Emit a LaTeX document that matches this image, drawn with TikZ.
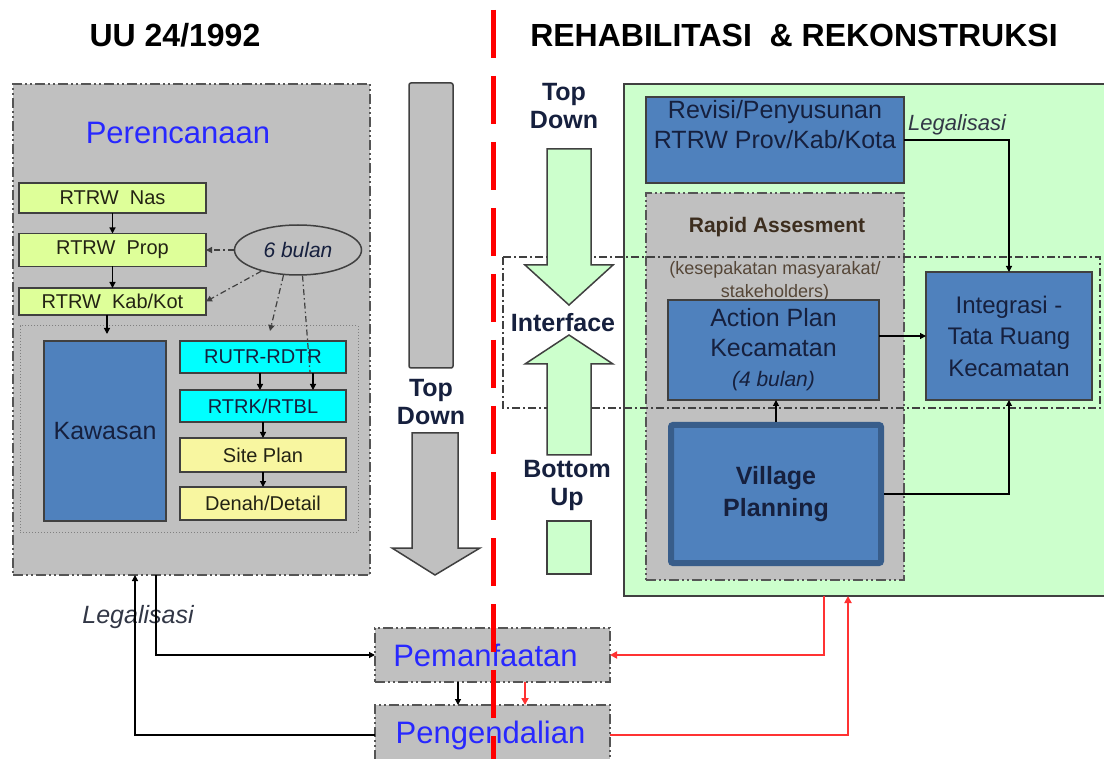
\documentclass[tikz,border=0pt]{standalone}
\usepackage{fontspec}
\setmainfont{Liberation Sans}
\usetikzlibrary{arrows.meta,shapes.geometric,calc}
\definecolor{grayfill}{RGB}{192,192,192}
\definecolor{bordc}{RGB}{64,64,64}
\definecolor{dashc}{RGB}{85,85,85}
\definecolor{lgreen}{RGB}{204,255,204}
\definecolor{ygreen}{RGB}{222,255,153}
\definecolor{lyellow}{RGB}{248,246,160}
\definecolor{cyanc}{RGB}{0,255,255}
\definecolor{bluebox}{RGB}{79,129,189}
\definecolor{bluedark}{RGB}{56,93,138}
\definecolor{navytxt}{RGB}{22,32,62}
\definecolor{darktxt}{RGB}{35,35,20}
\definecolor{bluetxt}{RGB}{40,40,255}
\definecolor{redline}{RGB}{255,0,0}
\definecolor{redarr}{RGB}{255,50,50}
\definecolor{browntxt}{RGB}{60,45,30}
\definecolor{lbrowntxt}{RGB}{85,70,55}
\definecolor{legtxt}{RGB}{50,55,70}
\newcommand\fsz[2]{\fontsize{#1}{#2}\selectfont}
\begin{document}
\begin{tikzpicture}[x=1pt,y=-1pt,
  box/.style={draw=bordc,line width=1.5pt,inner sep=0pt,outer sep=0pt,align=center},
  ddbox/.style={draw=dashc,line width=2.5pt,fill=grayfill,
    dash pattern=on 10pt off 3pt on 2pt off 3pt on 2pt off 3pt,
    inner sep=0pt,outer sep=0pt,align=center},
  arr/.style={-{Triangle[length=6pt,width=6pt]},line width=1.2pt,draw=black},
  arrred/.style={-{Triangle[length=7pt,width=7pt]},line width=1.8pt,draw=redarr},
  ddline/.style={dash pattern=on 6pt off 3pt on 1.5pt off 3pt,draw=bordc},
  bigarrow/.style={draw=bordc,line width=1.5pt,line join=miter},
  sidetxt/.style={font=\fsz{25}{28}\bfseries,align=center,text=navytxt}
]
\useasboundingbox (0,0) rectangle (1104,759);
\fill[white] (0,0) rectangle (1104,759);

% titles
\node[font=\fsz{32}{38}\bfseries] (ttl1) at (175,35) {UU 24/1992};
\node[font=\fsz{32}{38}\bfseries] (ttl2) at (794,35) {REHABILITASI\ \ \&\ REKONSTRUKSI};

% ---------------- left panel
\node[ddbox,minimum width=357pt,minimum height=491pt] (plan) at (191.5,329.5) {};
\node[text=bluetxt,font=\fsz{31}{36}] (perenc) at (178,133) {Perencanaan};
\node[box,fill=ygreen,minimum width=187pt,minimum height=30pt,font=\fsz{20}{24},text=darktxt] (nas) at (112.5,198) {RTRW\ \ Nas};
\node[box,fill=ygreen,minimum width=187pt,minimum height=33pt,font=\fsz{20}{24},text=darktxt] (prop) at (112.5,250) {RTRW\ \ Prop};
\node[box,fill=ygreen,minimum width=187pt,minimum height=27pt,font=\fsz{20}{24},text=darktxt] (kab) at (112.5,301.5) {RTRW\ \ Kab/Kot};
\node[draw=bordc,line width=1.5pt,fill=grayfill,ellipse,minimum width=127pt,minimum height=50pt,inner sep=0pt,font=\fsz{21}{24}\itshape,text=navytxt] (ell) at (298,250) {6 bulan};

\node[draw=gray,dotted,line width=1pt,fill=grayfill,minimum width=338pt,minimum height=206pt,inner sep=0pt] (inner) at (189,429) {};
\node[box,fill=bluebox,minimum width=122pt,minimum height=180pt,font=\fsz{25}{30},text=navytxt] (kaw) at (105,431) {Kawasan};
\node[box,fill=cyanc,minimum width=166pt,minimum height=32pt,font=\fsz{20}{24},text=navytxt] (rutr) at (263,357) {RUTR-RDTR};
\node[box,fill=cyanc,minimum width=166pt,minimum height=32pt,font=\fsz{20}{24},text=navytxt] (rtrk) at (263,406) {RTRK/RTBL};
\node[box,fill=lyellow,minimum width=166pt,minimum height=34pt,font=\fsz{20}{24},text=darktxt] (site) at (263,455) {Site Plan};
\node[box,fill=lyellow,minimum width=166pt,minimum height=33pt,font=\fsz{20}{24},text=darktxt] (denah) at (263,503.5) {Denah/Detail};

\draw[arr] (nas.south) -- (prop.north);
\draw[arr] (prop.south) -- (kab.north);
\coordinate (kin) at (107,334);
\draw[arr] (kab.south -| kin) -- (kin);
\draw[arr,ddline] (ell.west) -- (prop.east);
\draw[arr,ddline] (ell.210) -- (kab.east);
\coordinate (rutrin) at (270,331);
\draw[arr,ddline] (ell.240) -- (rutrin);
\coordinate (rutrx) at (310,372);
\draw[ddline,line width=1.2pt] (ell.280) -- (rutrx);
\draw[arr] ([xshift=-3pt]rutr.south) -- ([xshift=-3pt]rtrk.north);
\draw[arr] ([xshift=50pt]rutr.south) -- ([xshift=50pt]rtrk.north);
\draw[arr] (rtrk.south) -- (site.north);
\draw[arr] (site.south) -- (denah.north);

% ---------------- middle arrows
\draw[bigarrow,fill=grayfill,rounded corners=2pt] (409,83) rectangle (453,368);
\node[sidetxt] (td1) at (431,402) {Top\\Down};
\draw[bigarrow,fill=grayfill] (412,433) -- (458,433) -- (458,548) -- (480,548) -- (435,575) -- (392,548) -- (412,548) -- cycle;

% ---------------- right panel
\node[box,fill=lgreen,minimum width=491pt,minimum height=512pt] (green) at (869.5,340) {};
\node[box,fill=bluebox,minimum width=258pt,minimum height=86pt] (rev) at (775,140) {};
\node[font=\fsz{25}{30},text=navytxt,align=center] (revt) at (775,125) {Revisi/Penyusunan\\RTRW Prov/Kab/Kota};
\node[font=\fsz{22}{26}\itshape,text=legtxt] (leg2) at (957,125) {Legalisasi};
\node[ddbox,minimum width=258pt,minimum height=387pt] (rapid) at (775,386.5) {};
\node[font=\fsz{21}{25}\bfseries,text=browntxt] (rapt) at (777,227) {Rapid Assesment};
\node[font=\fsz{18}{23},text=lbrowntxt,align=center] (kesep) at (775,281.5) {(kesepakatan masyarakat/\\stakeholders)};

% interface box
\draw[bordc,line width=1.5pt,dash pattern=on 8pt off 3pt on 2pt off 3pt] (503,257) rectangle (1100,408);

% green arrows
\node[sidetxt] (td2) at (564,106) {Top\\Down};
\draw[bigarrow,fill=lgreen] (547,149) -- (591,149) -- (591,265) -- (613,265) -- (569,305) -- (525,265) -- (547,265) -- cycle;
\node[font=\fsz{25}{28}\bfseries,text=navytxt] (intf) at (563,323) {Interface};
\draw[bigarrow,fill=lgreen] (569,335) -- (613,364) -- (591,364) -- (591,455) -- (547,455) -- (547,364) -- (525,364) -- cycle;
\node[sidetxt] (bu) at (567,485) {Bottom\\Up};
\node[box,fill=lgreen,minimum width=44pt,minimum height=53pt] (bsq) at (569,547.5) {};

% blue boxes
\node[box,fill=bluebox,minimum width=211pt,minimum height=100pt,font=\fsz{25}{30},text=navytxt] (action) at (773.5,350) {Action Plan\\Kecamatan\\{\itshape\fsz{21}{30}(4 bulan)}};
\node[box,fill=bluebox,minimum width=166pt,minimum height=128pt,font=\fsz{24}{31.5},text=navytxt] (integ) at (1009,336) {Integrasi -\\Tata Ruang\\Kecamatan};
\node[draw=bluedark,line width=6pt,fill=bluebox,minimum width=210pt,minimum height=138pt,inner sep=0pt,outer sep=3pt,rounded corners=2pt,font=\fsz{25}{32}\bfseries,text=navytxt,align=center] (village) at (776,494) {Village\\Planning};

\draw[arr] (rev.east) -| (integ.north);
\draw[arr] (integ.west -| action.east) -- (integ.west);
\draw[arr] (village.north) -- (village.north |- action.south);
\draw[arr] (village.east) -| (integ.south);

% ---------------- bottom
\node[ddbox,minimum width=235pt,minimum height=54pt,font=\fsz{31}{36},text=bluetxt] (pem) at (492.5,655) {Pemanfaatan\hspace*{14pt}};
\node[ddbox,minimum width=235pt,minimum height=60pt,font=\fsz{31}{36},text=bluetxt] (peng) at (492.5,735) {\raisebox{4pt}{Pengendalian}\hspace*{4pt}};
\node[font=\fsz{25}{28}\itshape,text=legtxt] (leg1) at (138,617) {Legalisasi};

\draw[arr] ([xshift=143pt]plan.south west) |- (pem.west);
\draw[arr] (peng.west) -| ([xshift=122pt]plan.south west);
\draw[arr] ([xshift=-34.5pt]pem.south) -- ([xshift=-34.5pt]peng.north);
\draw[arrred] ([xshift=32.5pt]pem.south) -- ([xshift=32.5pt]peng.north);
\draw[arrred] ([xshift=200pt]green.south west) |- (pem.east);
\draw[arrred] (peng.east) -| ([xshift=224pt]green.south west);

% red divider
\draw[redline,line width=5pt,dash pattern=on 48pt off 18pt] (493,10) -- (493,759);
\end{tikzpicture}
\end{document}
